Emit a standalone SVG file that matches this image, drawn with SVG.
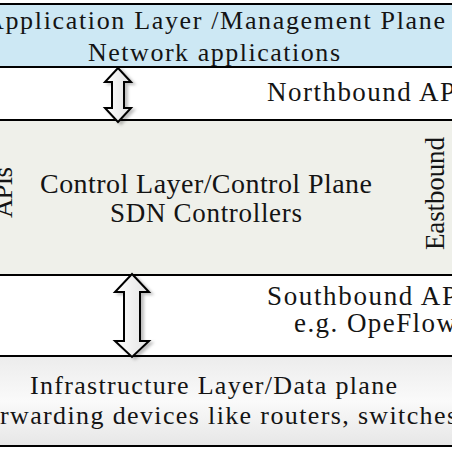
<svg xmlns="http://www.w3.org/2000/svg" width="452" height="452" viewBox="0 0 452 452">
<style>
.ln{stroke:#000;stroke-width:2.2;fill:none;}
.arr{fill:url(#ag);stroke:#000;stroke-width:2;stroke-linejoin:miter;filter:url(#sh);}
</style>
<defs>
<linearGradient id="ig" x1="0" y1="0" x2="0" y2="1">
<stop offset="0" stop-color="#ececec"/>
<stop offset="0.5" stop-color="#fafafa"/>
<stop offset="1" stop-color="#e6e6e6"/>
</linearGradient>
<linearGradient id="ag" x1="0" y1="0" x2="1" y2="0">
<stop offset="0" stop-color="#ffffff"/>
<stop offset="1" stop-color="#e2e2e2"/>
</linearGradient>
<filter id="sh" x="-50%" y="-20%" width="200%" height="140%">
<feDropShadow dx="3" dy="2" stdDeviation="1.8" flood-color="#000" flood-opacity="0.25"/>
</filter>
</defs>
<rect width="452" height="452" fill="#ffffff"/>

<g font-family="Liberation Serif, Tinos, Times New Roman, Times, serif" fill="#141414">
<g id="application-layer">
<rect x="-10" y="4" width="472" height="63" fill="#cde8f4"/>
<line class="ln" x1="-10" y1="4" x2="462" y2="4"/>
<line class="ln" x1="-10" y1="67" x2="462" y2="67"/>
<text x="-15" y="29" font-size="26" textLength="460" lengthAdjust="spacing">Application Layer /Management Plane</text>
<text x="88" y="61" font-size="26" textLength="252" lengthAdjust="spacing">Network applications</text>
</g>

<g id="northbound-api">
<text x="267" y="101" font-size="27" textLength="188" lengthAdjust="spacing">Northbound AP</text>
</g>

<g id="control-layer">
<rect x="-10" y="120" width="472" height="155" fill="#eff0ea"/>
<line class="ln" x1="-10" y1="120" x2="462" y2="120"/>
<line class="ln" x1="-10" y1="275" x2="462" y2="275"/>
<text x="40" y="193" font-size="28" textLength="332" lengthAdjust="spacing">Control Layer/Control Plane</text>
<text x="110" y="222" font-size="27" textLength="192" lengthAdjust="spacing">SDN Controllers</text>
<text transform="translate(12 218) rotate(-90)" font-size="27" textLength="51" lengthAdjust="spacing">APIs</text>
<text transform="translate(444 250) rotate(-90)" font-size="27" textLength="113" lengthAdjust="spacing">Eastbound</text>
</g>

<g id="southbound-api">
<text x="267" y="305" font-size="27" textLength="190" lengthAdjust="spacing">Southbound AP</text>
<text x="294" y="332" font-size="27" textLength="162" lengthAdjust="spacing">e.g. OpeFlow</text>
</g>

<g id="infrastructure-layer">
<rect x="-10" y="356" width="472" height="90" fill="url(#ig)"/>
<line class="ln" x1="-10" y1="356" x2="462" y2="356"/>
<line class="ln" x1="-10" y1="446" x2="462" y2="446"/>
<text x="30" y="394" font-size="26" textLength="367" lengthAdjust="spacing">Infrastructure Layer/Data plane</text>
<text x="0" y="424" font-size="26" textLength="457" lengthAdjust="spacing">rwarding devices like routers, switches</text>
</g>
</g>

<g id="connectors">
<path class="arr" d="M118 68 L131 82 L124 82 L124 108 L131 108 L118 122 L105 108 L112 108 L112 82 L105 82 Z"/>
<path class="arr" d="M132 274 L149 292 L140 292 L140 341 L149 341 L132 357 L115 341 L124 341 L124 292 L115 292 Z"/>
</g>
</svg>
